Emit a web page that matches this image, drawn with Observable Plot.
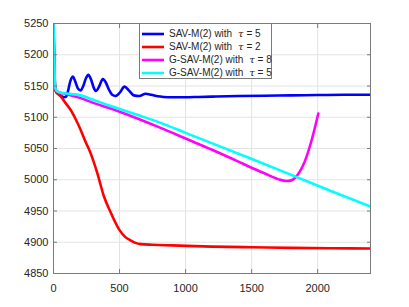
<!DOCTYPE html>
<html>
<head>
<meta charset="utf-8">
<script src="https://cdn.jsdelivr.net/npm/d3@7"></script>
<script src="https://cdn.jsdelivr.net/npm/@observablehq/plot@0.6"></script>
<style>
  html, body { margin: 0; padding: 0; background: #fff; }
  #wrap { position: relative; width: 409px; height: 307px; font-family: "Liberation Sans", Arial, sans-serif; }
  #legend { position: absolute; left: 139px; top: 23px; width: 133px; height: 56px; background: #fff; border: 1px solid #7a7a7a; box-sizing: border-box; }
  .row { position: absolute; left: 2px; height: 13px; display: flex; align-items: center; font-size: 10px; color: #262626; white-space: nowrap; }
  .row svg { margin-right: 5px; }
</style>
</head>
<body>
<div id="wrap"></div>
<script>
// ---- data ----
const seriesNames = ["SAV-M(2) with τ = 5", "SAV-M(2) with τ = 2", "G-SAV-M(2) with τ = 8", "G-SAV-M(2) with τ = 5"];
const seriesColors = ["#0000ff", "#ff0000", "#ff00ff", "#00ffff"];

const blueT = [0, 4, 8, 14, 22, 40, 60, 80, 95, 110, 125, 146, 165, 185, 205, 225, 245, 263, 285, 305, 323, 345, 374, 395, 420, 444, 470, 500, 538, 570, 608, 650, 697, 740, 790, 833, 900, 1000, 1100, 1200, 1400, 1600, 1800, 2000, 2200, 2400];
const blueV = [5250, 5200, 5165, 5145, 5140, 5137, 5134, 5132, 5133, 5142, 5156, 5165, 5157, 5146, 5143, 5150, 5162, 5168, 5160, 5147, 5142, 5149, 5161, 5156, 5144, 5136, 5134, 5139, 5149, 5143, 5135, 5134, 5137.5, 5136, 5133.5, 5132.5, 5132, 5132, 5132.5, 5133, 5134, 5134.5, 5135, 5135.5, 5136, 5136];

const redT = [0, 4, 8, 14, 25, 53, 90, 129, 170, 205, 240, 280, 331, 381, 432, 495, 540, 583, 620, 659, 750, 900, 1200, 1500, 1800, 2100, 2400];
const redV = [5250, 5200, 5165, 5143, 5139, 5134, 5123, 5112, 5096, 5080, 5062, 5043, 5011, 4974, 4948, 4921, 4909, 4903, 4899, 4897, 4896, 4895, 4893, 4892, 4891, 4890.5, 4890];

const magT = [0, 4, 8, 12, 20, 40, 100, 200, 300, 432, 659, 811, 1000, 1200, 1400, 1492, 1600, 1700, 1763, 1800, 1833, 1870, 1900, 1950, 2005];
const magV = [5250, 5210, 5175, 5150, 5143, 5140, 5137, 5131, 5123, 5114, 5096, 5083, 5066, 5048, 5029, 5020, 5010, 5001, 4998, 4999, 5004, 5015, 5028, 5060, 5106];

const cyaT = [0, 4, 8, 12, 20, 40, 100, 205, 300, 432, 659, 811, 1000, 1492, 1833, 2100, 2400];
const cyaV = [5250, 5210, 5175, 5150, 5143, 5140, 5138, 5135, 5128, 5118, 5102, 5091, 5075, 5034, 5005, 4982, 4957];

const xTicks = [0, 500, 1000, 1500, 2000];
const yTicks = [4850, 4900, 4950, 5000, 5050, 5100, 5150, 5200, 5250];

// ---- build tables ----
const allT = [blueT, redT, magT, cyaT];
const allV = [blueV, redV, magV, cyaV];
const rows = [];
allT.forEach((ts, i) => ts.forEach((t, j) => rows.push({s: seriesNames[i], t, v: allV[i][j]})));

const axisColor = "#262626";
const frameColor = "#7a7a7a";
const gridColor = "#e3e3e3";

const chart = Plot.plot({
  width: 409,
  height: 307,
  marginLeft: 53,
  marginRight: 39,
  marginTop: 23,
  marginBottom: 34,
  style: {fontFamily: '"Liberation Sans", Arial, sans-serif', fontSize: "11px", color: axisColor, background: "#fff"},
  x: {domain: [0, 2400]},
  y: {domain: [4850, 5250]},
  color: {domain: seriesNames, range: seriesColors},
  marks: [
    Plot.gridX(xTicks, {stroke: gridColor, strokeOpacity: 1}),
    Plot.gridY(yTicks, {stroke: gridColor, strokeOpacity: 1}),
    ...seriesNames.map(name =>
      Plot.line(rows.filter(d => d.s === name), {x: "t", y: "v", stroke: "s", strokeWidth: 2.6, curve: "monotone-x", clip: true})
    ),
    Plot.frame({stroke: frameColor}),
    Plot.axisX(xTicks, {anchor: "bottom", tickSize: -4, tickPadding: 15, stroke: frameColor, label: null, tickFormat: d => String(d)}),
    Plot.axisX(xTicks, {anchor: "top", tickSize: -4, stroke: frameColor, label: null, tickFormat: () => ""}),
    Plot.axisY(yTicks, {anchor: "left", tickSize: -4, tickPadding: 9, stroke: frameColor, label: null, tickFormat: d => String(d)}),
    Plot.axisY(yTicks, {anchor: "right", tickSize: -4, stroke: frameColor, label: null, tickFormat: () => ""})
  ]
});

const wrap = document.getElementById("wrap");
wrap.appendChild(chart);

// legend
const legend = document.createElement("div");
legend.id = "legend";
seriesNames.forEach((name, i) => {
  const row = document.createElement("div");
  row.className = "row";
  row.style.top = (3 + i * 13) + "px";
  const [pre, post] = name.split("τ");
  row.innerHTML = `<svg width="22" height="4"><line x1="0" x2="22" y1="2" y2="2" stroke="${seriesColors[i]}" stroke-width="2.6"/></svg><span>${pre}<i style="font-family:'DejaVu Serif',serif;font-size:10px">&nbsp;τ</i>${post}</span>`;
  legend.appendChild(row);
});
wrap.appendChild(legend);
</script>
</body>
</html>
